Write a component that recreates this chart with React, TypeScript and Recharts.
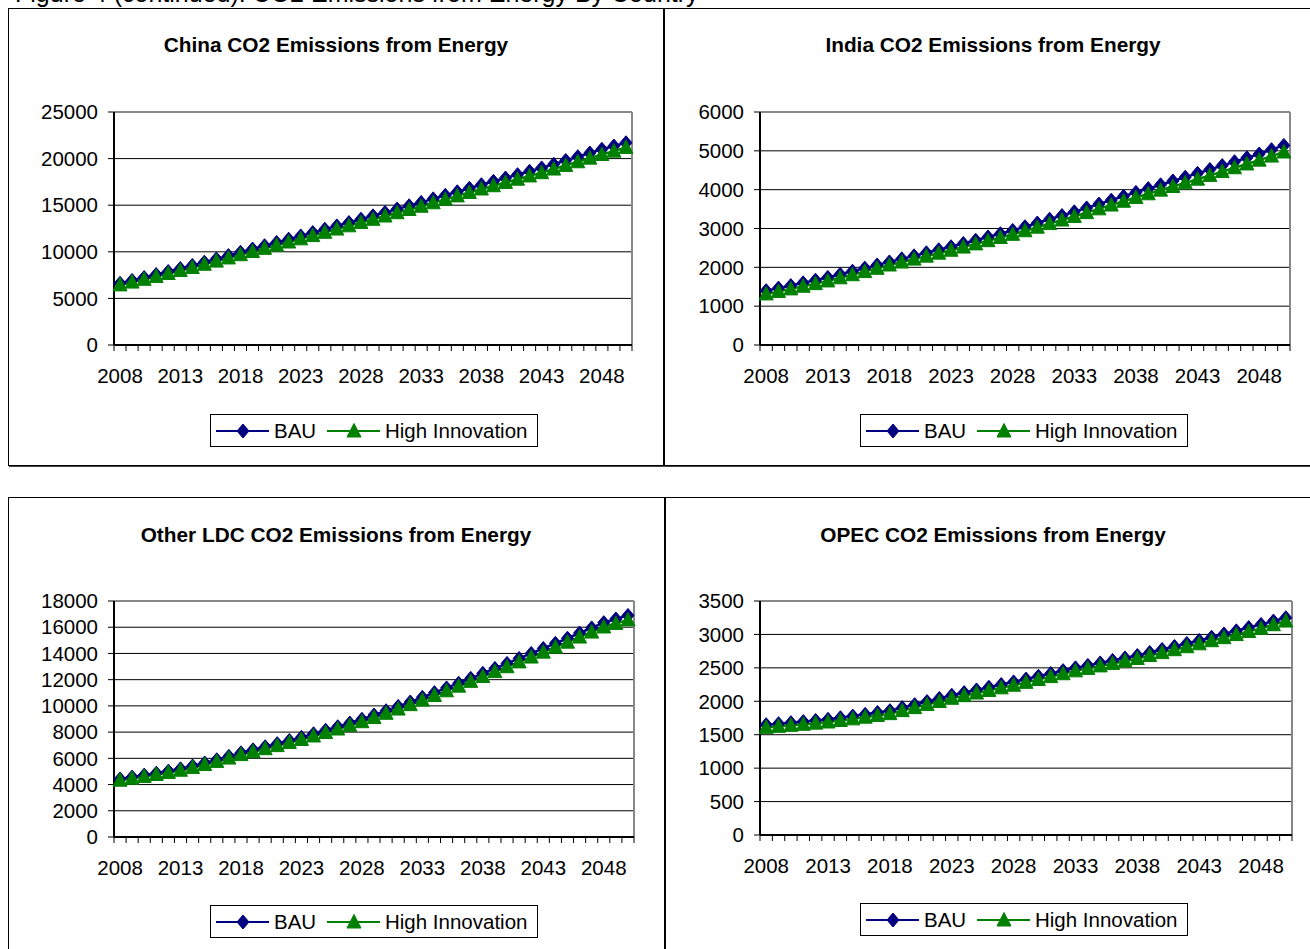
import React from 'react';
import { LineChart, Line, XAxis, YAxis, CartesianGrid, ReferenceLine } from 'recharts';

// years on the category axis, one point per year
const years = [
  2008, 2009, 2010, 2011, 2012, 2013, 2014, 2015, 2016, 2017,
  2018, 2019, 2020, 2021, 2022, 2023, 2024, 2025, 2026, 2027,
  2028, 2029, 2030, 2031, 2032, 2033, 2034, 2035, 2036, 2037,
  2038, 2039, 2040, 2041, 2042, 2043, 2044, 2045, 2046, 2047,
  2048, 2049, 2050,
];
const yearLabels = [2008, 2013, 2018, 2023, 2028, 2033, 2038, 2043, 2048];

const chinaBau = [
  6620, 6930, 7240, 7560, 7880, 8200, 8540, 8890, 9240, 9590,
  9950, 10300, 10650, 11000, 11350, 11700, 12060, 12420, 12780, 13140,
  13500, 13860, 14220, 14580, 14940, 15300, 15680, 16060, 16440, 16820,
  17200, 17560, 17920, 18280, 18640, 19000, 19400, 19800, 20200, 20600,
  21000, 21350, 21700,
];
const chinaHigh = [
  6450, 6750, 7050, 7360, 7670, 7990, 8320, 8660, 9000, 9340,
  9690, 10030, 10370, 10710, 11050, 11390, 11740, 12090, 12440, 12790,
  13140, 13490, 13840, 14190, 14540, 14890, 15260, 15630, 16000, 16370,
  16740, 17090, 17440, 17790, 18140, 18490, 18880, 19270, 19660, 20050,
  20440, 20800, 21200,
];
const chinaTicks = [0, 5000, 10000, 15000, 20000, 25000];

const indiaBau = [
  1400, 1465, 1530, 1600, 1670, 1740, 1820, 1900, 1980, 2060,
  2140, 2218, 2296, 2374, 2452, 2530, 2614, 2698, 2782, 2866,
  2950, 3046, 3142, 3238, 3334, 3430, 3530, 3630, 3730, 3830,
  3930, 4028, 4126, 4224, 4322, 4420, 4520, 4620, 4720, 4820,
  4920, 5030, 5140,
];
const indiaHigh = [
  1315, 1380, 1445, 1512, 1580, 1650, 1730, 1810, 1890, 1975,
  2060, 2136, 2212, 2288, 2364, 2440, 2522, 2604, 2686, 2768,
  2850, 2942, 3034, 3126, 3218, 3310, 3408, 3506, 3604, 3702,
  3800, 3894, 3988, 4082, 4176, 4270, 4368, 4466, 4564, 4662,
  4760, 4865, 4970,
];
const indiaTicks = [0, 1000, 2000, 3000, 4000, 5000, 6000];

const ldcBau = [
  4420, 4570, 4720, 4870, 5030, 5200, 5420, 5650, 5890, 6150,
  6420, 6650, 6880, 7120, 7360, 7600, 7870, 8140, 8410, 8690,
  8980, 9300, 9630, 9960, 10300, 10650, 11010, 11370, 11730, 12100,
  12480, 12860, 13240, 13620, 14000, 14380, 14770, 15160, 15560, 15950,
  16350, 16630, 16900,
];
const ldcHigh = [
  4330, 4475, 4620, 4770, 4925, 5090, 5305, 5530, 5765, 6020,
  6285, 6510, 6735, 6970, 7205, 7440, 7705, 7970, 8235, 8510,
  8795, 9110, 9435, 9760, 10095, 10440, 10795, 11150, 11505, 11870,
  12245, 12615, 12985, 13355, 13725, 14100, 14480, 14860, 15250, 15630,
  16020, 16290, 16560,
];
const ldcTicks = [0, 2000, 4000, 6000, 8000, 10000, 12000, 14000, 16000, 18000];

const opecBau = [
  1650, 1665, 1680, 1696, 1713, 1730, 1754, 1779, 1805, 1832,
  1860, 1905, 1950, 1996, 2043, 2090, 2130, 2170, 2210, 2250,
  2290, 2332, 2374, 2416, 2458, 2500, 2537, 2574, 2611, 2648,
  2685, 2730, 2775, 2820, 2865, 2910, 2958, 3006, 3054, 3102,
  3150, 3200, 3250,
];
const opecHigh = [
  1610, 1625, 1640, 1656, 1673, 1690, 1713, 1737, 1762, 1788,
  1815, 1860, 1905, 1951, 1997, 2045, 2084, 2123, 2162, 2201,
  2240, 2283, 2326, 2369, 2412, 2455, 2492, 2529, 2566, 2603,
  2640, 2684, 2728, 2772, 2816, 2860, 2906, 2952, 2998, 3044,
  3090, 3145, 3200,
];
const opecTicks = [0, 500, 1000, 1500, 2000, 2500, 3000, 3500];

const FONT = '"Liberation Sans", Arial, Helvetica, sans-serif';
const NAVY = '#000080';
const GREEN = '#008000';
const TICK_SIZE = 5;
const TICK_GAP = 14;
const Y_AXIS_W = 100;

// small marks sit between the years, like an Excel category axis
const yearEdges = [...years.map(y => y - 0.5), years[years.length - 1] + 0.5];
const xTicks = [...yearEdges, ...yearLabels].sort((a, b) => a - b);

const YearTick = (props: any) => {
  const { x, y, payload } = props;
  const axisY = y - TICK_SIZE - TICK_GAP;
  if (!Number.isInteger(payload.value)) {
    return <line x1={x} x2={x} y1={axisY} y2={axisY + 6} stroke="#000" strokeWidth={1} />;
  }
  return (
    <text x={x} y={axisY + 38} textAnchor="middle" fontSize={20.5} fontFamily={FONT} fill="#000">
      {payload.value}
    </text>
  );
};

const DiamondDot = (props: any) => {
  const { cx, cy } = props;
  if (cx == null || cy == null) return null;
  return (
    <polygon
      points={`${cx},${cy - 7} ${cx + 6},${cy} ${cx},${cy + 7} ${cx - 6},${cy}`}
      fill={NAVY}
      stroke={NAVY}
      strokeWidth={1}
    />
  );
};

const TriangleDot = (props: any) => {
  const { cx, cy } = props;
  if (cx == null || cy == null) return null;
  return (
    <polygon
      points={`${cx},${cy - 7.5} ${cx + 7},${cy + 6} ${cx - 7},${cy + 6}`}
      fill={GREEN}
      stroke={GREEN}
      strokeWidth={1}
    />
  );
};

const ChartLegend: React.FC<{ left: number; top: number }> = ({ left, top }) => {
  const text: React.CSSProperties = {
    position: 'absolute', top: 0, height: 31, lineHeight: '31px', fontSize: 20.5, fontFamily: FONT, color: '#000',
  };
  return (
    <div style={{
      position: 'absolute', left, top, width: 328, height: 33, boxSizing: 'border-box',
      border: '1px solid #000', background: '#fff',
    }}>
      <svg width={53} height={31} style={{ position: 'absolute', left: 5, top: 0 }}>
        <line x1={0} x2={53} y1={16} y2={16} stroke={NAVY} strokeWidth={2} />
        <DiamondDot cx={27} cy={16} />
      </svg>
      <span style={{ ...text, left: 63 }}>BAU</span>
      <svg width={53} height={31} style={{ position: 'absolute', left: 116, top: 0 }}>
        <line x1={0} x2={53} y1={16} y2={16} stroke={GREEN} strokeWidth={2} />
        <TriangleDot cx={27} cy={16} />
      </svg>
      <span style={{ ...text, left: 174 }}>High Innovation</span>
    </div>
  );
};

interface PanelConfig {
  title: string;
  bau: number[];
  high: number[];
  ticks: number[];
  box: { left: number; top: number; width: number; height: number };
  titleCenter: number;
  titleTop: number;
  plot: { left: number; top: number; width: number; height: number };
  legend: { left: number; top: number };
}

const panels: PanelConfig[] = [
  {
    title: 'China CO2 Emissions from Energy',
    bau: chinaBau, high: chinaHigh, ticks: chinaTicks,
    box: { left: 8, top: 8, width: 656, height: 458 },
    titleCenter: 336, titleTop: 35,
    plot: { left: 114, top: 112, width: 518, height: 233 },
    legend: { left: 210, top: 414 },
  },
  {
    title: 'India CO2 Emissions from Energy',
    bau: indiaBau, high: indiaHigh, ticks: indiaTicks,
    box: { left: 664, top: 8, width: 700, height: 458 },
    titleCenter: 993, titleTop: 35,
    plot: { left: 760, top: 112, width: 530, height: 233 },
    legend: { left: 860, top: 414 },
  },
  {
    title: 'Other LDC CO2 Emissions from Energy',
    bau: ldcBau, high: ldcHigh, ticks: ldcTicks,
    box: { left: 8, top: 497, width: 657, height: 500 },
    titleCenter: 336, titleTop: 525,
    plot: { left: 114, top: 601, width: 520, height: 236 },
    legend: { left: 210, top: 905 },
  },
  {
    title: 'OPEC CO2 Emissions from Energy',
    bau: opecBau, high: opecHigh, ticks: opecTicks,
    box: { left: 665, top: 497, width: 700, height: 500 },
    titleCenter: 993, titleTop: 525,
    plot: { left: 760, top: 601, width: 532, height: 234 },
    legend: { left: 860, top: 903 },
  },
];

const EmissionsPanel: React.FC<{ cfg: PanelConfig }> = ({ cfg }) => {
  const rows = years.map((year, i) => ({ year, bau: cfg.bau[i], high: cfg.high[i] }));
  const yMax = cfg.ticks[cfg.ticks.length - 1];
  const margin = { top: 20, right: 10, left: 0, bottom: 0 };
  const xAxisH = 50;
  return (
    <>
      <div style={{
        position: 'absolute', left: cfg.box.left, top: cfg.box.top, width: cfg.box.width, height: cfg.box.height,
        boxSizing: 'border-box', border: '1px solid #000', boxShadow: '1px 1px 0 #444',
      }} />
      <div style={{
        position: 'absolute', left: cfg.titleCenter - 300, top: cfg.titleTop, width: 600, textAlign: 'center',
        fontFamily: FONT, fontWeight: 'bold', fontSize: 20.8, lineHeight: '20px', color: '#000',
      }}>
        {cfg.title}
      </div>
      <div style={{ position: 'absolute', left: cfg.plot.left - Y_AXIS_W, top: cfg.plot.top - margin.top }}>
        <LineChart
          width={Y_AXIS_W + cfg.plot.width + margin.right}
          height={margin.top + cfg.plot.height + xAxisH}
          data={rows}
          margin={margin}
        >
          <CartesianGrid vertical={false} stroke="#000" strokeWidth={1} />
          <XAxis
            type="number"
            dataKey="year"
            domain={[2007.5, 2050.5]}
            ticks={xTicks}
            interval={0}
            tickSize={TICK_SIZE}
            tickMargin={TICK_GAP}
            tickLine={false}
            axisLine={{ stroke: '#000', strokeWidth: 2 }}
            tick={<YearTick />}
            height={xAxisH}
          />
          <YAxis
            type="number"
            domain={[0, yMax]}
            ticks={cfg.ticks}
            interval={0}
            width={Y_AXIS_W}
            tickSize={6}
            tickMargin={10}
            tick={{ fontSize: 20.5, fill: '#000', fontFamily: FONT }}
            tickLine={{ stroke: '#000' }}
            axisLine={{ stroke: '#000', strokeWidth: 2 }}
          />
          <ReferenceLine y={yMax} stroke="#888" strokeWidth={2} />
          <ReferenceLine x={2050.5} stroke="#888" strokeWidth={2} />
          <Line
            type="linear"
            dataKey="bau"
            stroke={NAVY}
            strokeWidth={2.5}
            dot={<DiamondDot />}
            activeDot={false}
            isAnimationActive={false}
          />
          <Line
            type="linear"
            dataKey="high"
            stroke={GREEN}
            strokeWidth={2.5}
            dot={<TriangleDot />}
            activeDot={false}
            isAnimationActive={false}
          />
        </LineChart>
      </div>
      <ChartLegend left={cfg.legend.left} top={cfg.legend.top} />
    </>
  );
};

export default function App() {
  return (
    <div style={{
      position: 'fixed', left: 0, top: 0, width: 1310, height: 949, overflow: 'hidden',
      background: '#fff', fontFamily: FONT,
    }}>
      <div style={{
        position: 'absolute', left: 15, top: -19, fontSize: 25, lineHeight: '25px', whiteSpace: 'nowrap', color: '#000',
      }}>
        Figure 4 (continued): CO2 Emissions from Energy By Country
      </div>
      {panels.map(p => <EmissionsPanel key={p.title} cfg={p} />)}
    </div>
  );
}
